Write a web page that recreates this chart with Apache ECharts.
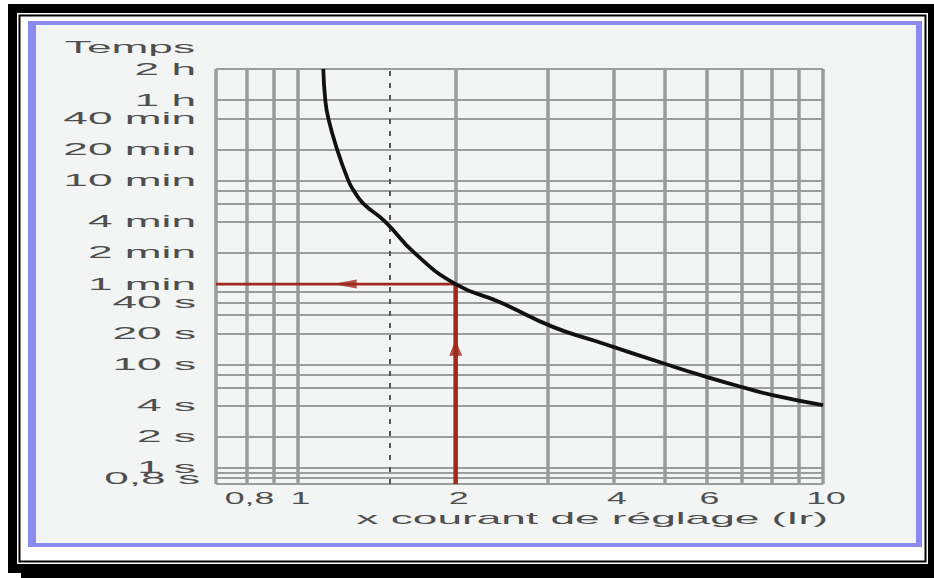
<!DOCTYPE html>
<html>
<head>
<meta charset="utf-8">
<script src="https://cdn.jsdelivr.net/npm/echarts@6/dist/echarts.min.js"></script>
<style>
html,body{margin:0;padding:0;background:#fff;}
#c{width:934px;height:578px;}
</style>
</head>
<body>
<div id="c"></div>
<script>
// ---- data ----
const yTickValues = [0.8, 1, 2, 4, 10, 20, 40, 60, 120, 240, 600, 1200, 2400, 3600, 7200];
const yTickLabels = ['0,8 s', '1 s', '2 s', '4 s', '10 s', '20 s', '40 s', '1 min', '2 min', '4 min', '10 min', '20 min', '40 min', '1 h', '2 h'];
const yGridValues = [0.7, 0.8, 0.9, 1, 2, 4, 6, 8, 10, 20, 30, 40, 50, 60, 120, 240, 360, 480, 600, 1200, 2400, 3600, 7200];
const xTickValues = [0.8, 1, 2, 4, 6, 10];
const xTickLabels = ['0,8', '1', '2', '4', '6', '10'];
const xGridValues = [0.7, 0.8, 0.9, 1, 2, 3, 4, 5, 6, 7, 8, 9, 10];
const xDashedValues = [1.5];
const curveI = [1.12, 1.13, 1.145, 1.19, 1.25, 1.28, 1.335, 1.47, 1.67, 2.0, 2.43, 3.07, 3.74, 5.05, 6.0, 7.1, 8.1, 10];
const curveT = [7200, 3600, 2400, 1200, 600, 480, 360, 240, 120, 60, 40, 23, 16.5, 10, 7.6, 5.95, 5.0, 4.05];
const readI = 2;
const readT = 60;
const arrowLeftPoint = [1.23, 60];
const arrowUpPoint = [2, 14.5];
const xAxisName = 'x courant de réglage (Ir)';
const yAxisName = 'Temps';

// ---- chart ----
const chart = echarts.init(document.getElementById('c'), null, {renderer: 'svg', width: 934, height: 578});
const grayV = '#9b9b9b', grayH = '#7e7e7e', red = '#a02a1e', txt = '#4f4f4f';

function nearestLabel(v, vals, labels) {
  let best = -1, bd = Infinity;
  vals.forEach((x, i) => { const d = Math.abs(Math.log(v / x)); if (d < bd) { bd = d; best = i; } });
  return bd < 0.02 ? labels[best] : '';
}
const hidden = {type: 'line', data: [[1, 1]], showSymbol: false, lineStyle: {opacity: 0}, silent: true, tooltip: {show: false}};
function mk(data, lineStyle, z) {
  return {silent: true, z: z, symbol: ['none', 'none'], label: {show: false}, emphasis: {disabled: true}, animation: false, lineStyle: lineStyle, data: data};
}
// the lowest tick label sits very close to the next one; it goes on a twin axis so both stay visible
const yMainTicks = yTickValues.slice(1);
const yLowTicks = yTickValues.slice(0, 1);
function yAxisOf(ticks, withName, margin) {
  const ax = {
    type: 'log', logBase: 10, min: 0.7, max: 7200, position: 'left', offset: 0,
    axisLine: {show: false}, axisTick: {show: false}, splitLine: {show: false}, minorSplitLine: {show: false},
    axisLabel: {customValues: ticks, formatter: v => nearestLabel(v, yTickValues, yTickLabels), color: txt, fontSize: 17, margin: margin, hideOverlap: false}
  };
  if (withName) {
    Object.assign(ax, {
      name: yAxisName, nameLocation: 'end', nameGap: 22, nameMoveOverlap: false,
      nameTextStyle: {align: 'right', verticalAlign: 'middle', padding: [0, 21, 0, 0], color: txt, fontSize: 17}
    });
  }
  return ax;
}

const option = {
  animation: false,
  backgroundColor: '#ffffff',
  textStyle: {fontFamily: 'Liberation Sans'},
  graphic: [
    {type: 'rect', z: -10, shape: {x: 8, y: 4, width: 926, height: 574}, style: {fill: '#000'}},
    {type: 'rect', z: -9, shape: {x: 0, y: 573, width: 21, height: 5}, style: {fill: '#fff'}},
    {type: 'rect', z: -9, shape: {x: 17, y: 13, width: 911, height: 551}, style: {fill: '#fff'}},
    {type: 'rect', z: -8, shape: {x: 19.5, y: 15.5, width: 906, height: 546}, style: {fill: 'none', stroke: '#000', lineWidth: 2}},
    {type: 'rect', z: -7, shape: {x: 28, y: 21, width: 894, height: 526}, style: {fill: '#8c8cf0'}},
    {type: 'rect', z: -6, shape: {x: 36, y: 25, width: 880, height: 518}, style: {fill: '#f3f5f5'}}
  ],
  grid: {left: 216, right: 111, top: 69, bottom: 94, containLabel: false, outerBoundsMode: 'none'},
  xAxis: {
    type: 'log', logBase: 10, min: 0.7, max: 10,
    axisLine: {show: false}, axisTick: {show: false}, splitLine: {show: false}, minorSplitLine: {show: false},
    axisLabel: {customValues: xTickValues, formatter: v => nearestLabel(v, xTickValues, xTickLabels), color: txt, fontSize: 17, margin: 6, padding: [0, 0, 0, 6], hideOverlap: false},
    name: xAxisName, nameLocation: 'end', nameGap: 5, nameMoveOverlap: false,
    nameTextStyle: {align: 'right', verticalAlign: 'top', padding: [26, 0, 0, 0], color: txt, fontSize: 17}
  },
  yAxis: [yAxisOf(yMainTicks, true, 20), yAxisOf(yLowTicks, false, 16)],
  series: [
    Object.assign({}, hidden, {z: 1, markLine: mk(yGridValues.map(v => ({yAxis: v})), {color: grayH, width: 1.6, type: 'solid'}, 1)}),
    Object.assign({}, hidden, {z: 2, markLine: mk(xGridValues.map(v => ({xAxis: v})), {color: grayV, width: 3.5, type: 'solid'}, 2)}),
    Object.assign({}, hidden, {z: 2, markLine: mk(xDashedValues.map(v => ({xAxis: v})), {color: '#555', width: 2, type: [5, 7]}, 2)}),
    {type: 'line', z: 3, silent: true, data: [[0.7, readT], [readI, readT]], symbol: 'none', lineStyle: {color: red, width: 2.8}},
    {type: 'line', z: 3, silent: true, data: [[readI, 0.7], [readI, readT]], symbol: 'none', lineStyle: {color: red, width: 4.5}},
    {type: 'scatter', z: 4, silent: true, data: [arrowLeftPoint], symbol: 'triangle', symbolSize: [9, 24], symbolRotate: 90, itemStyle: {color: red}},
    {type: 'scatter', z: 4, silent: true, data: [arrowUpPoint], symbol: 'triangle', symbolSize: [13, 16], itemStyle: {color: red}},
    {type: 'line', z: 5, silent: true, data: curveI.map((x, i) => [x, curveT[i]]), smooth: 0.5, symbol: 'none', clip: true, lineStyle: {color: '#111', width: 3.8}}
  ]
};
chart.setOption(option);

function stretchTexts() {
  document.querySelectorAll('#c svg text').forEach(t => {
    const s = (t.textContent || '').trim();
    if (!s) return;
    if (t.getAttribute('data-base') === null) t.setAttribute('data-base', t.getComputedTextLength());
    const w = parseFloat(t.getAttribute('data-base'));
    const f = /^[0-9,]+$/.test(s) ? 2.1 : 2.6;
    t.setAttribute('textLength', (w * f).toFixed(1));
    t.setAttribute('lengthAdjust', 'spacingAndGlyphs');
  });
}
stretchTexts();
chart.on('finished', stretchTexts);
setTimeout(stretchTexts, 50);
</script>
</body>
</html>
